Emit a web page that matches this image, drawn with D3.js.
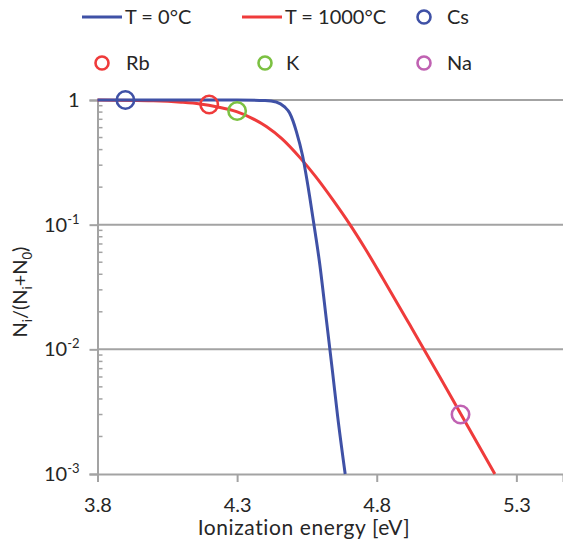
<!DOCTYPE html>
<html>
<head>
<meta charset="utf-8">
<style>
body { margin: 0; background: #fff; }
svg text { font-family: Lato, "Open Sans", sans-serif; fill: #262626; }
</style>
</head>
<body>
<svg id="svg"></svg>
<script src="https://cdnjs.cloudflare.com/ajax/libs/d3/7.8.5/d3.min.js"></script>
<script>
// values
var energyT0 = [3.8, 4.3, 4.4, 4.44, 4.47, 4.488, 4.5, 4.512, 4.534, 4.56, 4.58, 4.595, 4.62, 4.642, 4.66, 4.687]
var fracT0 = [1, 1, 0.99, 0.965, 0.88, 0.787, 0.68, 0.56, 0.36, 0.167, 0.085, 0.05, 0.017, 0.0065, 0.0029, 0.001]
var energyT1000 = [3.8, 4.0, 4.1, 4.167, 4.23, 4.298, 4.35, 4.406, 4.46, 4.525, 4.58, 4.643, 4.703, 4.76, 4.822, 4.92, 5.026, 5.1, 5.223]
var fracT1000 = [1, 0.985, 0.96, 0.93, 0.88, 0.806, 0.72, 0.61, 0.49, 0.345, 0.245, 0.158, 0.101, 0.0635, 0.037, 0.0155, 0.006, 0.00306, 0.001]
var elements = ['Cs', 'Rb', 'K', 'Na']
var elemEnergy = [3.9, 4.2, 4.3, 5.1]
var elemFrac = [1, 0.92, 0.816, 0.003]
var elemColors = ['#3f51a6', '#ef3b3b', '#7cc142', '#c062b2']
var xTicks = [3.8, 4.3, 4.8, 5.3]
var yTicks = [1, 0.1, 0.01, 0.001]
var yTickExp = ['', '-1', '-2', '-3']

var W = 563, H = 541
var svg = d3.select('#svg').attr('width', W).attr('height', H)

var x = d3.scaleLinear().domain([3.8, 5.467]).range([97.5, 563])
var y = d3.scaleLog().domain([0.001, 1]).range([474, 100])
var gray = '#a3a3a3'

// gridlines
svg.append('g').selectAll('line').data(yTicks.slice(0, 3)).enter().append('line')
  .attr('x1', x(3.8)).attr('x2', W)
  .attr('y1', d => y(d)).attr('y2', d => y(d))
  .attr('stroke', gray).attr('stroke-width', 2)

// y axis
var yAxis = d3.axisLeft(y).tickValues(yTicks).tickSize(8).tickFormat('')
var gy = svg.append('g').attr('transform', 'translate(' + x(3.8) + ',0)').call(yAxis)
gy.select('.domain').attr('stroke', gray).attr('stroke-width', 2)
gy.selectAll('.tick line').attr('stroke', gray).attr('stroke-width', 2)
// minor ticks inside
var minor = []
for (var e = -3; e < 0; e++) for (var m = 2; m <= 9; m++) minor.push(m * Math.pow(10, e))
gy.append('g').selectAll('line').data(minor).enter().append('line')
  .attr('x1', 0).attr('x2', 5)
  .attr('y1', d => y(d)).attr('y2', d => y(d))
  .attr('stroke', gray).attr('stroke-width', 1.5)

var ylab = gy.append('g').selectAll('text').data(yTicks).enter().append('text')
  .attr('x', -18).attr('y', d => y(d) + 7)
  .attr('text-anchor', 'end').style('font-size', '20px')
ylab.each(function (d, i) {
  var t = d3.select(this)
  if (i === 0) { t.text('1'); return }
  t.append('tspan').text('10')
  t.append('tspan').attr('dy', -8).style('font-size', '13px').text(yTickExp[i])
})

// x axis
var xAxis = d3.axisBottom(x).tickValues(xTicks).tickSize(8).tickFormat(d3.format('.1f'))
var gx = svg.append('g').attr('transform', 'translate(0,' + y(0.001) + ')').call(xAxis)
gx.select('.domain').attr('stroke', gray).attr('stroke-width', 2)
gx.selectAll('.tick line').attr('stroke', gray).attr('stroke-width', 2)
gx.selectAll('.tick text').attr('y', 38).attr('dy', 0)
  .style('font-size', '20px').style('font-family', 'Lato, sans-serif').attr('fill', '#262626')

// curves
var line = d3.line().x(d => x(d[0])).y(d => y(d[1])).curve(d3.curveMonotoneX)
svg.append('path').datum(energyT1000.map((e, i) => [e, fracT1000[i]]))
  .attr('d', line).attr('fill', 'none').attr('stroke', '#ef3b3b').attr('stroke-width', 3)
svg.append('path').datum(energyT0.map((e, i) => [e, fracT0[i]]))
  .attr('d', line).attr('fill', 'none').attr('stroke', '#3f51a6').attr('stroke-width', 3)

// element markers
svg.append('g').selectAll('circle').data(elements).enter().append('circle')
  .attr('cx', (d, i) => x(elemEnergy[i])).attr('cy', (d, i) => y(elemFrac[i]))
  .attr('r', 8.7).attr('fill', 'none')
  .attr('stroke', (d, i) => elemColors[i]).attr('stroke-width', 2.6)

// axis titles
var yt = svg.append('text').attr('transform', 'translate(27,292) rotate(-90)')
  .attr('text-anchor', 'middle').style('font-size', '20px')
yt.append('tspan').text('N')
yt.append('tspan').attr('dy', 5).style('font-size', '13px').text('i')
yt.append('tspan').attr('dy', -5).text('/(N')
yt.append('tspan').attr('dy', 5).style('font-size', '13px').text('i')
yt.append('tspan').attr('dy', -5).text('+N')
yt.append('tspan').attr('dy', 5).style('font-size', '13px').text('0')
yt.append('tspan').attr('dy', -5).text(')')

svg.append('text').attr('x', 304).attr('y', 535).attr('text-anchor', 'middle')
  .style('font-size', '21px').style('letter-spacing', '0.6px').text('Ionization energy [eV]')

// legend
var leg = svg.append('g').style('font-size', '20px')
var legLines = [['T = 0°C', '#3f51a6', 82], ['T = 1000°C', '#ef3b3b', 242]]
legLines.forEach(function (l) {
  leg.append('line').attr('x1', l[2]).attr('x2', l[2] + 40).attr('y1', 17).attr('y2', 17)
    .attr('stroke', l[1]).attr('stroke-width', 3)
  leg.append('text').attr('x', l[2] + 43).attr('y', 24).text(l[0])
})
var legPos = [[424, 17, 447], [102, 63, 126], [265, 63, 286], [424, 63, 447]]
elements.forEach(function (el, i) {
  var p = legPos[i]
  leg.append('circle').attr('cx', p[0]).attr('cy', p[1]).attr('r', 6.5)
    .attr('fill', 'none').attr('stroke', elemColors[i]).attr('stroke-width', 2.6)
  leg.append('text').attr('x', p[2]).attr('y', p[1] + 7).text(el)
})
</script>
</body>
</html>
